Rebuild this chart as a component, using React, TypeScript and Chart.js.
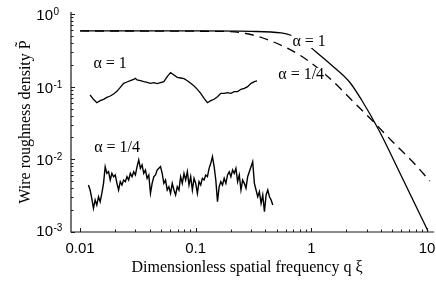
import { useEffect, useRef } from 'react';
import { Chart, registerables } from 'chart.js';

Chart.register(...registerables);

// Main spectra
const Q_ALPHA_1 = [0.01, 0.11, 0.3, 0.548, 0.818, 1.1, 1.49, 2.14, 2.72, 3.83, 6.06, 10.2];
const P_ALPHA_1 = [0.584, 0.584, 0.576, 0.548, 0.439, 0.3, 0.199, 0.116, 0.0655, 0.0253, 0.00571, 0.00103];

const Q_ALPHA_QUARTER = [0.01, 0.165, 0.272, 0.449, 0.818, 1.49, 2.32, 3.33, 4.97, 7.41, 10.6];
const P_ALPHA_QUARTER = [0.584, 0.576, 0.539, 0.425, 0.264, 0.124, 0.0615, 0.0348, 0.0179, 0.0095, 0.00503];

// Inset roughness profile, alpha = 1
const Q_PROFILE_1 = [
  0.012215, 0.013059, 0.01396, 0.014925, 0.015955, 0.017058, 0.018236, 0.019496, 0.020842, 0.022276,
  0.023815, 0.02546, 0.027219, 0.029098, 0.030086, 0.031108, 0.033256, 0.035552, 0.038008, 0.040633,
  0.043439, 0.046416, 0.049622, 0.05305, 0.056713, 0.06063, 0.064817, 0.069293, 0.074079, 0.079195,
  0.084665, 0.090512, 0.096763, 0.10339, 0.11052, 0.11817, 0.12631, 0.13503, 0.14434, 0.15431,
  0.16497, 0.17637, 0.18855, 0.20157, 0.21544, 0.23033, 0.24623, 0.26324, 0.28143, 0.30086,
  0.32165, 0.3392,
];
const P_PROFILE_1 = [
  0.0768, 0.067, 0.0602, 0.0642, 0.067, 0.0713, 0.0744, 0.0793, 0.0863, 0.0979,
  0.1111, 0.116, 0.1209, 0.1261, 0.1302, 0.1235, 0.1209, 0.1172, 0.1147, 0.1111,
  0.1135, 0.1099, 0.1135, 0.1172, 0.1373, 0.1559, 0.1447, 0.1344, 0.1316, 0.1288,
  0.1209, 0.1111, 0.1021, 0.0919, 0.081, 0.0691, 0.0602, 0.0642, 0.067, 0.0728,
  0.081, 0.081, 0.0827, 0.081, 0.0854, 0.0854, 0.0919, 0.0949, 0.1, 0.1111,
  0.1172, 0.1197,
];

// Inset roughness profile, alpha = 1/4
const Q_PROFILE_QUARTER = [
  0.011817, 0.012215, 0.012631, 0.013059, 0.013503, 0.01396, 0.014434, 0.014925, 0.015431, 0.015955,
  0.016497, 0.017058, 0.017637, 0.018236, 0.018855, 0.019496, 0.020157, 0.020842, 0.021544, 0.022276,
  0.023033, 0.023815, 0.024623, 0.02546, 0.026324, 0.027219, 0.028143, 0.029098, 0.030086, 0.031108,
  0.032165, 0.033256, 0.034386, 0.035552, 0.03676, 0.038008, 0.039298, 0.040633, 0.042013, 0.043439,
  0.044915, 0.046416, 0.047993, 0.049622, 0.051307, 0.05305, 0.054851, 0.056713, 0.058639, 0.06063,
  0.062688, 0.064817, 0.067018, 0.069293, 0.071646, 0.074079, 0.076594, 0.079195, 0.081884, 0.084665,
  0.087539, 0.090512, 0.093585, 0.096763, 0.1, 0.10339, 0.1069, 0.11052, 0.11427, 0.11817,
  0.12215, 0.12631, 0.13059, 0.13503, 0.1396, 0.14434, 0.14925, 0.15431, 0.15955, 0.16497,
  0.17058, 0.17637, 0.18236, 0.18855, 0.19496, 0.20157, 0.20842, 0.21544, 0.22276, 0.23033,
  0.23815, 0.24623, 0.2546, 0.26324, 0.27219, 0.28143, 0.29098, 0.30086, 0.31108, 0.32165,
  0.33256, 0.34386, 0.35552, 0.3676, 0.38008, 0.39298, 0.40633, 0.42013, 0.43439, 0.44915,
  0.46416,
];
const P_PROFILE_QUARTER = [
  0.00443, 0.00378, 0.00291, 0.00212, 0.00276, 0.00235, 0.00306, 0.00261, 0.0034, 0.00467,
  0.00792, 0.00642, 0.00676, 0.00519, 0.00642, 0.00577, 0.00609, 0.00467, 0.00378, 0.00493,
  0.00443, 0.00519, 0.00493, 0.00577, 0.00519, 0.00642, 0.00577, 0.00676, 0.00609, 0.00792,
  0.00979, 0.00752, 0.00836, 0.00642, 0.00713, 0.00548, 0.00609, 0.0034, 0.00467, 0.00577,
  0.00609, 0.00713, 0.00752, 0.00792, 0.00642, 0.00467, 0.00519, 0.00378, 0.0042, 0.0034,
  0.00467, 0.00378, 0.00323, 0.0042, 0.00378, 0.00577, 0.00467, 0.00642, 0.00519, 0.00676,
  0.00443, 0.00577, 0.00378, 0.00548, 0.00467, 0.0034, 0.00493, 0.00443, 0.00548, 0.00519,
  0.00609, 0.00577, 0.00752, 0.00881, 0.01088, 0.00792, 0.00519, 0.00261, 0.0042, 0.00493,
  0.00443, 0.00548, 0.00467, 0.00609, 0.00676, 0.00577, 0.00713, 0.00642, 0.00752, 0.00493,
  0.00609, 0.00378, 0.00519, 0.00467, 0.00399, 0.00577, 0.00676, 0.00792, 0.00928, 0.00467,
  0.00378, 0.00306, 0.00359, 0.00248, 0.00323, 0.0019, 0.00323, 0.00378, 0.00306, 0.00276,
  0.00235,
];

// Axes
const X_MIN = 0.00835;
const X_MAX = 11.5;
const Y_MIN = 0.001;
const Y_MAX = 1;
const X_TICKS = [0.01, 0.1, 1, 10];
const X_TICK_LABELS = ['0.01', '0.1', '1', '10'];
const Y_TICKS = [1, 0.1, 0.01, 0.001];
const Y_TICK_EXPONENTS = ['0', '-1', '-2', '-3'];
const X_TITLE = 'Dimensionless spatial frequency q \u03BE';
const Y_TITLE = 'Wire roughness density P\u0303';

// Annotations (text, q, P)
const NOTE_TEXTS = ['\u03B1 = 1', '\u03B1 = 1/4', '\u03B1 = 1', '\u03B1 = 1/4'];
const NOTE_Q = [0.957, 0.817, 0.0182, 0.0209];
const NOTE_P = [0.412, 0.145, 0.205, 0.0143];

const SERIF = '"Liberation Serif", "Times New Roman", serif';
const SANS = '"Liberation Sans", Arial, sans-serif';

const zip = (qs: number[], ps: number[]) => qs.map((q, i) => ({ x: q, y: ps[i] }));

const decor = {
  id: 'decor',
  afterDatasetsDraw(chart: any) {
    const { ctx, chartArea: a, scales } = chart;
    const xs = scales.x;
    const ys = scales.y;
    ctx.save();
    ctx.strokeStyle = '#1a1a1a';
    ctx.fillStyle = '#000';
    ctx.lineWidth = 1.2;
    // axis lines
    ctx.beginPath();
    ctx.moveTo(a.left, a.top - 2);
    ctx.lineTo(a.left, a.bottom);
    ctx.lineTo(a.right, a.bottom);
    ctx.stroke();
    // ticks
    ctx.lineWidth = 1;
    ctx.beginPath();
    for (let d = -2; d <= 0; d++) {
      for (let m = 1; m <= 9; m++) {
        const px = Math.round(xs.getPixelForValue(m * Math.pow(10, d))) + 0.5;
        const len = m === 1 ? 4 : 2.5;
        ctx.moveTo(px, a.bottom);
        ctx.lineTo(px, a.bottom - len);
      }
    }
    {
      const px = Math.round(xs.getPixelForValue(10)) + 0.5;
      ctx.moveTo(px, a.bottom);
      ctx.lineTo(px, a.bottom - 4);
    }
    for (let d = -3; d <= -1; d++) {
      for (let m = 1; m <= 9; m++) {
        const py = Math.round(ys.getPixelForValue(m * Math.pow(10, d))) + 0.5;
        const len = m === 1 ? 4 : 2.5;
        ctx.moveTo(a.left, py);
        ctx.lineTo(a.left + len, py);
      }
    }
    {
      const py = Math.round(ys.getPixelForValue(1)) + 0.5;
      ctx.moveTo(a.left, py);
      ctx.lineTo(a.left + 4, py);
    }
    ctx.stroke();

    // x tick labels
    ctx.font = `15px ${SANS}`;
    ctx.textAlign = 'center';
    ctx.textBaseline = 'alphabetic';
    X_TICKS.forEach((v, i) => {
      ctx.fillText(X_TICK_LABELS[i], xs.getPixelForValue(v), a.bottom + 21);
    });
    // y tick labels with superscripts
    Y_TICKS.forEach((v, i) => {
      const py = Math.min(ys.getPixelForValue(v), a.bottom - 2);
      ctx.font = `15px ${SANS}`;
      ctx.textAlign = 'right';
      ctx.textBaseline = 'alphabetic';
      ctx.fillText('10', 53, py + 6);
      ctx.font = `10px ${SANS}`;
      ctx.textAlign = 'left';
      ctx.fillText(Y_TICK_EXPONENTS[i], 53.5, py + 1);
    });

    // axis titles
    ctx.font = `16px ${SERIF}`;
    ctx.textAlign = 'center';
    ctx.textBaseline = 'alphabetic';
    ctx.fillText(X_TITLE, 247, 272);
    ctx.save();
    ctx.translate(29.5, 122);
    ctx.rotate(-Math.PI / 2);
    ctx.fillText(Y_TITLE, 0, 0);
    ctx.restore();

    // annotations
    ctx.font = `16px ${SERIF}`;
    ctx.textAlign = 'center';
    ctx.textBaseline = 'middle';
    NOTE_TEXTS.forEach((t, i) => {
      const px = xs.getPixelForValue(NOTE_Q[i]);
      const py = ys.getPixelForValue(NOTE_P[i]);
      const w = ctx.measureText(t).width;
      ctx.fillStyle = '#fff';
      ctx.fillRect(px - w / 2 - 1, py - 7, w + 2, 13);
      ctx.fillStyle = '#000';
      ctx.fillText(t, px, py);
    });
    ctx.restore();
  },
};

export default function App() {
  const ref = useRef<HTMLCanvasElement | null>(null);
  useEffect(() => {
    if (!ref.current) return;
    const chart = new Chart(ref.current, {
      type: 'line',
      data: {
        datasets: [
          {
            data: zip(Q_ALPHA_1, P_ALPHA_1),
            borderColor: '#000',
            borderWidth: 1.3,
            cubicInterpolationMode: 'monotone',
            pointRadius: 0,
          },
          {
            data: zip(Q_ALPHA_QUARTER, P_ALPHA_QUARTER),
            borderColor: '#000',
            borderWidth: 1.3,
            borderDash: [9, 6],
            cubicInterpolationMode: 'monotone',
            pointRadius: 0,
          },
          {
            data: zip(Q_PROFILE_1, P_PROFILE_1),
            borderColor: '#000',
            borderWidth: 1.3,
            tension: 0,
            pointRadius: 0,
          },
          {
            data: zip(Q_PROFILE_QUARTER, P_PROFILE_QUARTER),
            borderColor: '#000',
            borderWidth: 1.4,
            tension: 0,
            pointRadius: 0,
          },
        ],
      },
      options: {
        responsive: false,
        animation: false,
        devicePixelRatio: 1,
        parsing: true,
        layout: { padding: { left: 71, right: 2, top: 14, bottom: 50 } },
        plugins: { legend: { display: false }, tooltip: { enabled: false } },
        scales: {
          x: { type: 'logarithmic', min: X_MIN, max: X_MAX, display: false },
          y: { type: 'logarithmic', min: Y_MIN, max: Y_MAX, display: false },
        },
      },
      plugins: [decor],
    } as any);
    return () => chart.destroy();
  }, []);
  return (
    <div style={{ position: 'fixed', left: 0, top: 0, width: 436, height: 282, background: '#fff' }}>
      <canvas ref={ref} width={436} height={282} style={{ width: 436, height: 282, display: 'block' }} />
    </div>
  );
}
